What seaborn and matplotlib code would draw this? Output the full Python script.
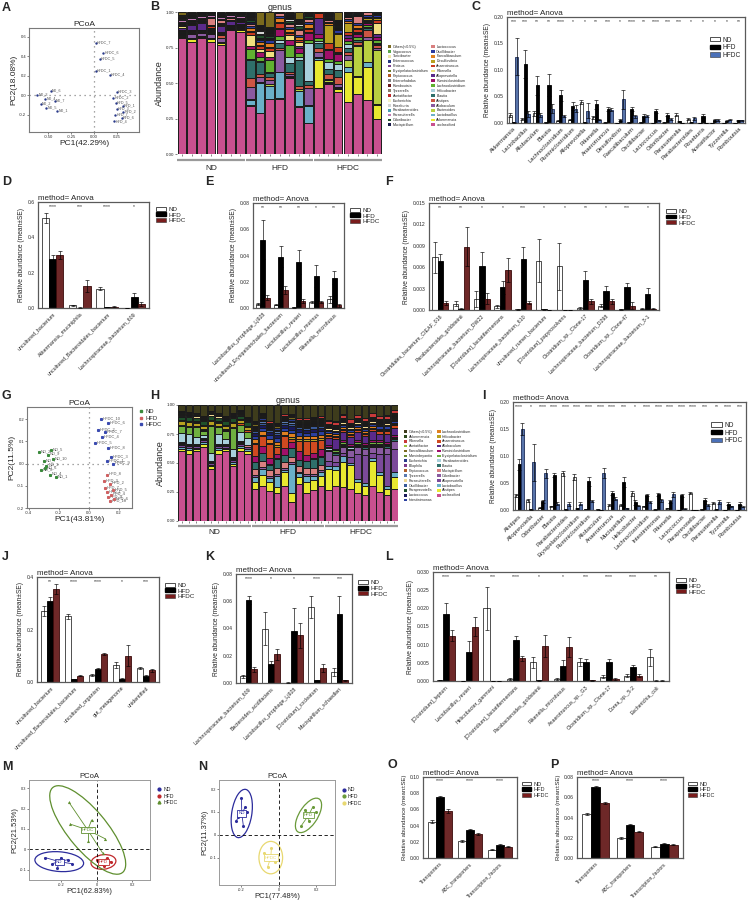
import numpy as np
import pandas as pd
import matplotlib
matplotlib.use('Agg')
import matplotlib.pyplot as plt
import seaborn as sns
from matplotlib.patches import Patch, Ellipse
from matplotlib.lines import Line2D

sns.set_theme(style='white')
plt.rcParams['font.family'] = ['Liberation Sans', 'DejaVu Sans']
plt.rcParams['axes.linewidth'] = 0.8

GROUPS = ['ND', 'HFD', 'HFDC']

# ---------------- panel A : PCoA (genus, first cohort) ----------------
A_labels = ['ND_6', 'ND_3', 'ND_4', 'ND_7', 'ND_2', 'ND_5', 'ND_1',
            'HFDC_7', 'HFDC_6', 'HFDC_5', 'HFDC_1', 'HFDC_4', 'HFDC_3', 'HFDC_2',
            'HFD_5', 'HFD_1', 'HFD_3', 'HFD_2', 'HFD_7', 'HFD_6', 'HFD_4']
A_x = [-0.47, -0.62, -0.53, -0.43, -0.58, -0.52, -0.40,
       0.02, 0.10, 0.06, 0.02, 0.17, 0.25, 0.21,
       0.24, 0.31, 0.25, 0.32, 0.23, 0.30, 0.22]
A_y = [0.04, 0.00, -0.04, -0.06, -0.09, -0.13, -0.16,
       0.54, 0.43, 0.37, 0.25, 0.21, 0.03, -0.03,
       -0.08, -0.11, -0.145, -0.175, -0.20, -0.235, -0.27]

# ---------------- panel B : genus composition (21 samples) ----------------
B_samples = ['ND'] * 7 + ['HFD'] * 7 + ['HFDC'] * 7
B_genus = {
    'Vagococcus':        [0, 0, 0, 0, 0, 0, 0, .003, .002, .002, .003, .002, .002, .003, .002, .003, .002, .002, .003, .002, .002],
    'Turicibacter':      [.003, .002, .002, .003, .002, .002, .002, .005, .003, .004, .003, .003, .004, .003, .003, .002, .003, .003, .002, .003, .002],
    'Enterococcus':      [.002, .003, .002, .002, .003, .002, .002, .004, .003, .003, .004, .003, .003, .004, .002, .003, .002, .003, .002, .003, .002],
    'Proteus':           [.003, .002, .003, .002, .002, .003, .002, .003, .004, .003, .003, .004, .003, .003, .003, .002, .003, .003, .003, .002, .003],
    'Erysipelatoclostridium': [.003, .003, .002, .003, .003, .002, .003, .005, .004, .004, .005, .004, .004, .005, .004, .004, .003, .004, .004, .003, .004],
    'Peptococcus':       [.002, .002, .003, .002, .002, .002, .002, .006, .005, .005, .006, .005, .005, .006, .004, .005, .004, .004, .005, .004, .004],
    'Enterorhabdus':     [.002, .002, .002, .002, .002, .002, .002, .004, .004, .003, .004, .003, .004, .003, .003, .003, .003, .004, .003, .003, .003],
    'Romboutsia':        [.002, .002, .002, .002, .002, .002, .002, .004, .004, .004, .004, .004, .004, .004, .004, .004, .004, .004, .004, .004, .004],
    'Tyzzerella':        [.002, .002, .002, .002, .002, .002, .002, .004, .003, .004, .003, .004, .003, .004, .004, .004, .004, .004, .004, .004, .004],
    'Acetatifactor':     [.002, .002, .002, .002, .002, .002, .002, .006, .005, .006, .005, .006, .005, .006, .005, .006, .005, .006, .005, .006, .005],
    'Escherichia':       [.002, .002, .002, .002, .002, .002, .002, .004, .006, .005, .004, .005, .004, .006, .004, .005, .004, .004, .005, .004, .004],
    'Roseburia':         [.002, .002, .002, .002, .002, .002, .002, .012, .025, .008, .010, .012, .010, .008, .002, .002, .002, .002, .002, .002, .002],
    'Parabacteroides':   [.008, .006, .007, .008, .006, .007, .006, .002, .002, .002, .002, .002, .002, .002, .008, .010, .008, .010, .009, .010, .008],
    'Parasutterella':    [.015, .018, .014, .016, .015, .018, .016, .003, .002, .004, .003, .002, .003, .002, .001, .001, .001, .001, .001, .001, .001],
    'Odoribacter':       [.002, .002, .002, .002, .002, .002, .002, .015, .018, .014, .016, .015, .018, .016, .007, .007, .008, .006, .007, .008, .006],
    'Mucispirillum':     [.005, .004, .004, .005, .004, .004, .004, .010, .008, .010, .008, .008, .010, .008, .006, .006, .006, .006, .006, .006, .006],
    'Lactococcus':       [.010, .010, .010, .050, .020, .010, .005, .020, .010, .010, .020, .020, .030, .020, .010, .010, .010, .010, .050, .020, .010],
    'Oscillibacter':     [.002, .002, .002, .002, .002, .002, .002, .014, .012, .015, .014, .012, .015, .014, .014, .012, .015, .014, .012, .015, .012],
    'Faecalibaculum':    [.005, .005, .005, .005, .005, .005, .005, .020, .020, .030, .030, .020, .020, .030, .010, .010, .010, .020, .020, .010, .010],
    'Desulfovibrio':     [0, 0, 0, 0, 0, 0, 0, .005, .010, .010, .010, .010, .005, .005, .010, .130, .090, .060, .010, .010, .010],
    'Anaerotruncus':     [.005, .005, .005, .010, .010, .005, .005, .020, .020, .020, .030, .010, .010, .020, .030, .040, .040, .020, .020, .010, .020],
    'Rikenella':         [.010, .005, .010, .010, .005, 0, .005, .080, .020, .040, .005, .040, .030, .005, .005, .005, .005, .005, .005, .005, .080],
    'Alloprevotella':    [.020, .040, .045, .010, .040, .030, .015, 0, .005, .005, .005, 0, .010, 0, .110, .005, .005, .020, .010, .005, .020],
    'Ruminiclostridium': [.005, .005, .005, .005, .005, .005, .005, .020, .030, .020, .050, .030, .040, .050, .030, .060, .050, .020, .020, .020, .020],
    'Lachnoclostridium': [.005, .005, .005, .005, .010, .005, .005, .070, .030, .080, .030, .090, .030, .020, .020, .020, .020, .020, .020, .010, .020],
    'Helicobacter':      [0, 0, 0, 0, 0, 0, 0, .005, .010, .010, .020, .040, .020, .270, .010, .050, .040, .030, .005, .010, .010],
    'Blautia':           [.005, .005, .005, .005, .005, .005, .005, .130, .080, .030, .030, .060, .180, .030, .040, .040, .050, .030, .010, .010, .010],
    'Alistipes':         [.010, .010, .010, .010, .020, .010, .005, .060, .020, .020, .020, .020, .020, .020, .030, .030, .050, .020, .020, .050, .020],
    'Allobaculum':       [.010, .030, .020, .030, .030, 0, .010, .090, .040, .030, .150, .010, .005, .120, .030, .010, .020, .030, .010, .020, .010],
    'Bacteroides':       [.005, 0, .005, 0, .005, 0, .005, .005, .005, .010, .005, .005, .010, .005, .010, .010, .010, .050, .210, .160, .380],
    'Lactobacillus':     [.005, .005, .005, .005, .005, .005, .010, .035, .210, .090, .180, .010, .110, .120, .010, .010, .010, .040, .010, .030, .010],
    'Akkermansia':       [.005, .020, 0, .020, .010, 0, .010, .005, 0, 0, .005, 0, .005, 0, .200, .010, .020, .210, .120, .235, .100],
    'unclassified':      [.820, .790, .820, .790, .770, .875, .860, .340, .290, .390, .390, .535, .330, .220, .465, .490, .435, .365, .420, .380, .245],
}
B_order = ['Others(<0.5%)', 'Vagococcus', 'Turicibacter', 'Enterococcus', 'Proteus',
           'Erysipelatoclostridium', 'Peptococcus', 'Enterorhabdus', 'Romboutsia', 'Tyzzerella',
           'Acetatifactor', 'Escherichia', 'Roseburia', 'Parabacteroides', 'Parasutterella',
           'Odoribacter', 'Mucispirillum', 'Lactococcus', 'Oscillibacter', 'Faecalibaculum',
           'Desulfovibrio', 'Anaerotruncus', 'Rikenella', 'Alloprevotella', 'Ruminiclostridium',
           'Lachnoclostridium', 'Helicobacter', 'Blautia', 'Alistipes', 'Allobaculum',
           'Bacteroides', 'Lactobacillus', 'Akkermansia', 'unclassified']
B_colors = ['#7a6a1e', '#5aa84a', '#eee6a8', '#24367e', '#7b3f8f', '#6b7b2a', '#b35a1f',
            '#7f7f7f', '#6b1a1a', '#8b7d6b', '#c0282b', '#f5f3c8', '#d3d3d3', '#4aa0b0',
            '#c27bb4', '#1f4f2a', '#1a1a4a', '#d98080', '#2a3aa0', '#e08020', '#b8a020',
            '#c83a20', '#f0e080', '#5a2a8a', '#a0106a', '#60b030', '#a8d0dc', '#2f6f6a',
            '#cc5544', '#8a5aa0', '#b8d040', '#6ab0c8', '#e8e830', '#c8508f']

# ---------------- panel C ----------------
C_taxa = ['Akkermansia', 'Lactobacillus', 'Allobaculum', 'Blautia', 'Lachnoclostridium',
          'Ruminiclostridium', 'Alloprevotella', 'Rikenella', 'Anaerotruncus', 'Desulfovibrio',
          'Faecalibaculum', 'Oscillibacter', 'Lactococcus', 'Odoribacter', 'Parasutterella',
          'Parabacteroides', 'Roseburia', 'Acetatifactor', 'Tyzzerella', 'Romboutsia']
C_nd = [.015, .007, .018, .001, .004, .006, .039, .011, .001, .0003, .001, .001, .0005, .001, .016, .008, .0005, .0002, .0002, .0002]
C_hfd = [.001, .111, .071, .072, .052, .032, .001, .035, .027, .006, .026, .014, .022, .016, .003, .001, .013, .006, .004, .005]
C_hfdc = [.125, .017, .015, .027, .014, .027, .023, .006, .025, .045, .013, .014, .005, .007, .0005, .009, .0002, .006, .006, .005]
C_nd_se = [.003, .002, .004, .0005, .001, .001, .004, .003, .0005, .0002, .0005, .0005, .0003, .0005, .003, .002, .0003, .0001, .0001, .0001]
C_hfd_se = [.0005, .027, .018, .021, .011, .007, .0005, .009, .004, .002, .004, .003, .004, .003, .001, .0005, .004, .002, .001, .001]
C_hfdc_se = [.035, .005, .004, .009, .002, .007, .014, .001, .003, .018, .003, .002, .001, .002, .0003, .003, .0001, .002, .001, .001]
C_stars = ['***', '***', '**', '**', '****', '*', '*', '**', '***', '*', '****', '**', '****',
           '***', '***', '*', '*', '*', '*', '**']

# ---------------- panel D ----------------
D_taxa = ['uncultured_bacterium', 'Akkermansia_muciniphila', 'uncultured_Bacteroidales_bacterium',
          'Lachnospiraceae_bacterium_609']
D_nd = [.51, .015, .11, .001]
D_hfd = [.28, .002, .005, .062]
D_hfdc = [.30, .125, .008, .022]
D_nd_se = [.03, .003, .01, .0005]
D_hfd_se = [.02, .001, .002, .023]
D_hfdc_se = [.02, .035, .002, .01]
D_stars = ['****', '***', '****', '*']

# ---------------- panel E ----------------
E_taxa = ['Lactobacillus_prophage_Lj928', 'uncultured_Erysipelotrichales_bacterium',
          'Lactobacillus_reuteri', 'Lactobacillus_murinus', 'Rikenella_microfusus']
E_nd = [.003, .0025, .0005, .0045, .0065]
E_hfd = [.052, .039, .035, .0245, .023]
E_hfdc = [.0078, .014, .0055, .0045, .002]
E_nd_se = [.001, .0005, .0002, .0007, .0025]
E_hfd_se = [.015, .008, .009, .0085, .005]
E_hfdc_se = [.002, .003, .0015, .001, .001]
E_stars = ['**', '**', '**', '*', '**']

# ---------------- panel F ----------------
F_taxa = ['Clostridiales_bacterium_CIEAF_016', 'Parabacteroides_goldsteinii',
          'Lachnospiraceae_bacterium_DW22', '[Clostridium]_lactatifermentans',
          'Lachnospiraceae_bacterium_610', 'uncultured_rumen_bacterium',
          '[Clostridium]_papyrosolvens', 'Clostridium_sp._Clone-17',
          'Lachnospiraceae_bacterium_D298', 'Clostridium_sp._Clone-47',
          'Lachnospiraceae_bacterium_3-1']
F_nd = [.0074, .0009, .0015, .0005, .0001, .0069, .0061, .0003, .0006, .0001, .0002]
F_hfd = [.0069, .0002, .0062, .0032, .0071, .0001, .00005, .0042, .0026, .0032, .0023]
F_hfdc = [.0010, .0089, .0016, .0056, .0010, .00005, .00005, .0012, .0012, .0006, .0002]
F_nd_se = [.0022, .0004, .0011, .0002, .0001, .0030, .0033, .0001, .0002, .0001, .0001]
F_hfd_se = [.0009, .0001, .0019, .0009, .0018, .0001, .0, .0012, .0007, .0006, .0008]
F_hfdc_se = [.0003, .0027, .0008, .0017, .0002, .0, .0, .0003, .0004, .0005, .0001]
F_stars = ['**', '**', '*', '*', '***', '*', '*', '**', '*', '***', '*']

# ---------------- panel G : PCoA (second cohort) ----------------
G_group = ['ND'] * 10 + ['HFD'] * 10 + ['HFDC'] * 10
G_labels = ['ND_%d' % i for i in (2, 9, 5, 7, 3, 10, 8, 6, 1, 4)] + \
           ['HFD_%d' % i for i in (8, 3, 2, 7, 5, 4, 9, 6, 1, 10)] + \
           ['HFDC_%d' % i for i in (10, 6, 2, 7, 4, 5, 8, 3, 1, 9)]
G_x = [-0.33, -0.27, -0.25, -0.30, -0.28, -0.24, -0.32, -0.29, -0.22, -0.26,
       0.12, 0.10, 0.14, 0.11, 0.16, 0.15, 0.13, 0.17, 0.12, 0.14,
       0.08, 0.13, 0.06, 0.11, 0.09, 0.04, 0.13, 0.15, 0.12, 0.16]
G_y = [0.05, 0.04, 0.06, 0.01, -0.01, 0.02, -0.03, -0.02, -0.06, -0.05,
       -0.05, -0.08, -0.09, -0.11, -0.12, -0.14, -0.15, -0.16, -0.13, -0.17,
       0.20, 0.18, 0.15, 0.14, 0.12, 0.09, 0.07, 0.03, 0.01, 0.00]

# ---------------- panel H : genus composition (30 samples) ----------------
H_samples = ['ND'] * 10 + ['HFD'] * 10 + ['HFDC'] * 10
H_genus = {
    'Akkermansia':      [.004, .003, .004, .003, .004, .003, .004, .003, .004, .003, .004, .004, .004, .004, .004, .004, .004, .004, .004, .004, .003, .003, .003, .003, .003, .003, .003, .003, .003, .003],
    'Rikenella':        [.003, .003, .003, .003, .003, .003, .003, .003, .003, .003, .016, .015, .018, .014, .016, .015, .017, .016, .015, .016, .029, .030, .028, .030, .029, .028, .030, .029, .030, .028],
    'Acetatifactor':    [.006, .005, .006, .005, .006, .005, .006, .005, .006, .005, .008, .008, .008, .008, .008, .008, .008, .008, .008, .008, .005, .005, .005, .005, .005, .005, .005, .005, .005, .005],
    'Faecalibaculum':   [.004, .004, .004, .004, .004, .004, .004, .004, .004, .004, .010, .010, .010, .010, .010, .010, .010, .010, .010, .010, .004, .004, .004, .004, .004, .004, .004, .004, .004, .004],
    'Marvinbryantia':   [.004, .004, .004, .004, .004, .004, .004, .004, .004, .004, .006, .006, .006, .006, .006, .006, .006, .006, .006, .006, .004, .004, .004, .004, .004, .004, .004, .004, .004, .004],
    'Escherichia':      [.004, .004, .004, .004, .004, .004, .004, .004, .004, .004, .010, .012, .010, .012, .010, .012, .010, .012, .010, .012, .006, .006, .006, .006, .006, .006, .006, .006, .006, .006],
    'Bilophila':        [.003, .003, .003, .003, .003, .003, .003, .003, .003, .003, .008, .008, .008, .008, .008, .008, .008, .008, .008, .008, .006, .006, .006, .006, .006, .006, .006, .006, .006, .006],
    'Peptococcus':      [.004, .004, .004, .004, .004, .004, .004, .004, .004, .004, .006, .006, .006, .006, .006, .006, .006, .006, .006, .006, .004, .004, .004, .004, .004, .004, .004, .004, .004, .004],
    'Tyzzerella':       [.001, .001, .001, .001, .001, .001, .001, .001, .001, .001, .012, .012, .012, .012, .012, .012, .012, .012, .012, .012, .007, .007, .007, .007, .007, .007, .007, .007, .007, .007],
    'Parasutterella':   [.013, .014, .012, .013, .014, .012, .013, .014, .012, .013, .001, .001, .001, .001, .001, .001, .001, .001, .001, .001, .015, .014, .016, .015, .014, .016, .015, .014, .016, .015],
    'Oscillibacter':    [.001, .001, .001, .001, .001, .001, .001, .001, .001, .001, .019, .018, .020, .019, .018, .020, .019, .018, .020, .019, .009, .009, .009, .009, .009, .009, .009, .009, .009, .009],
    'Paraprevotella':   [.030, .032, .031, .030, .032, .031, .030, .032, .031, .030, 0, 0, 0, 0, 0, 0, 0, 0, 0, 0, 0, 0, 0, 0, 0, 0, 0, 0, 0, 0],
    'Lactococcus':      [.001, .001, .001, .001, .001, .001, .001, .001, .001, .001, .027, .030, .025, .028, .027, .030, .025, .028, .027, .030, .002, .002, .002, .002, .002, .002, .002, .002, .002, .002],
    'Intestinimonas':   [.001, .001, .001, .001, .001, .001, .001, .001, .001, .001, .030, .028, .032, .030, .028, .032, .030, .028, .032, .030, .018, .018, .018, .018, .018, .018, .018, .018, .018, .018],
    'Lachnoclostridium': [.007, .007, .007, .007, .007, .007, .007, .007, .007, .007, .030, .028, .032, .030, .028, .032, .030, .028, .032, .030, .015, .015, .015, .015, .015, .015, .015, .015, .015, .015],
    'Helicobacter':     [.030, .032, .028, .030, .032, .028, .030, .032, .028, .030, .014, .014, .014, .014, .014, .014, .014, .014, .014, .014, .008, .008, .008, .008, .008, .008, .008, .008, .008, .008],
    'Anaerotruncus':    [.010, .010, .010, .010, .010, .010, .010, .010, .010, .010, .100, .080, .120, .060, .100, .030, .090, .120, .100, .080, .020, .020, .020, .020, .020, .020, .020, .020, .020, .020],
    'Allobaculum':      [0, 0, 0, 0, 0, 0, 0, 0, 0, 0, 0, 0, 0, 0, 0, 0, 0, 0, 0, 0, .060, .080, .070, .060, .070, .060, .080, .060, .070, .060],
    'Ruminiclostridium': [.003, .003, .003, .003, .003, .003, .003, .003, .003, .003, .050, .060, .050, .040, .060, .050, .070, .050, .050, .060, .016, .016, .016, .016, .016, .016, .016, .016, .016, .016],
    'Erysipelatoclostridium': [.060, .060, .080, .040, .230, .060, .070, .180, .060, .050, .002, .002, .002, .002, .002, .002, .002, .002, .002, .002, .012, .012, .012, .012, .012, .012, .012, .012, .012, .012],
    'Parabacteroides':  [.080, .080, .060, .020, .070, .080, .040, .070, .080, .060, .002, .002, .002, .002, .002, .002, .002, .002, .002, .002, .011, .011, .011, .011, .011, .011, .011, .011, .011, .011],
    'Blautia':          [.007, .007, .007, .007, .007, .007, .007, .007, .007, .007, .060, .070, .050, .080, .060, .070, .050, .060, .080, .070, .012, .012, .012, .012, .012, .012, .012, .012, .012, .012],
    'Mucispirillum':    [.009, .009, .009, .009, .009, .009, .009, .009, .009, .009, .050, .050, .050, .050, .050, .050, .050, .050, .050, .050, .003, .003, .003, .003, .003, .003, .003, .003, .003, .003],
    'Odoribacter':      [.004, .004, .004, .004, .004, .004, .004, .004, .004, .004, .016, .016, .016, .016, .016, .016, .016, .016, .016, .016, .080, .060, .050, .060, .060, .050, .050, .060, .050, .070],
    'Alloprevotella':   [.018, .018, .018, .018, .018, .018, .018, .018, .018, .018, 0, 0, 0, 0, 0, 0, 0, 0, 0, 0, .050, .040, .030, .050, .220, .240, .050, .160, .280, .200],
    'Lactobacillus':    [.020, .020, .010, .020, .010, .020, .010, .020, .020, .020, .040, .050, .030, .100, .020, .250, .030, .050, .040, .030, .020, .030, .050, .020, .020, .030, .020, .020, .020, .040],
    'Alistipes':        [.020, .030, .020, .020, .020, .030, .020, .020, .030, .020, .060, .100, .080, .050, .120, .080, .060, .100, .080, .090, .180, .140, .220, .200, .100, .080, .220, .150, .060, .100],
    'unclassified':     [.600, .580, .600, .640, .450, .580, .600, .470, .600, .580, .280, .300, .260, .240, .300, .160, .320, .240, .270, .300, .270, .300, .290, .280, .240, .220, .300, .250, .220, .280],
}
H_order = ['Others(<0.5%)', 'Akkermansia', 'Rikenella', 'Acetatifactor', 'Faecalibaculum',
           'Marvinbryantia', 'Escherichia', 'Bilophila', 'Peptococcus', 'Tyzzerella',
           'Parasutterella', 'Oscillibacter', 'Paraprevotella', 'Lactococcus', 'Intestinimonas',
           'Lachnoclostridium', 'Helicobacter', 'Anaerotruncus', 'Allobaculum',
           'Ruminiclostridium', 'Erysipelatoclostridium', 'Parabacteroides', 'Blautia',
           'Mucispirillum', 'Odoribacter', 'Alloprevotella', 'Lactobacillus', 'Alistipes',
           'unclassified']
H_colors = ['#3e3c1c', '#2e4a1e', '#c83a3a', '#9ac040', '#7a6a20', '#6a8a30', '#2a3a8a',
            '#7a3a8a', '#b0602a', '#5a7ab0', '#f0d890', '#3a5a9a', '#1f4f2a', '#1a1a5a',
            '#2a40a0', '#e08020', '#b8a020', '#d04a20', '#5a2a8a', '#a0106a', '#70b040',
            '#a8d0dc', '#2f6f6a', '#d98080', '#8a5aa0', '#7b4a9a', '#6ab0c8', '#e8e830',
            '#c8508f']

# ---------------- panel I ----------------
I_taxa = ['Alistipes', 'Alloprevotella', 'Odoribacter', 'Blautia', 'Parabacteroides',
          'Erysipelatoclostridium', 'Ruminiclostridium', 'Allobaculum', 'Anaerotruncus',
          'Mucispirillum', 'Helicobacter', 'Lachnoclostridium', 'Intestinimonas', 'Rikenella',
          'Lactococcus', 'Paraprevotella', 'Oscillibacter', 'Parasutterella', 'Tyzzerella',
          'Romboutsia']
I_nd = [.027, .018, .004, .007, .068, .061, .002, .001, .010, .009, .031, .007, .001, .003, .0005, .031, .001, .013, .0003, .0003]
I_hfd = [.085, .001, .016, .065, .001, .003, .053, .0005, .032, .052, .014, .028, .029, .016, .027, .0002, .019, .001, .012, .012]
I_hfdc = [.150, .088, .068, .012, .011, .012, .016, .068, .021, .003, .008, .015, .018, .029, .002, .0002, .009, .015, .007, .006]
I_nd_se = [.003, .003, .001, .001, .005, .005, .0005, .0005, .002, .002, .005, .001, .0005, .001, .0003, .002, .0005, .002, .0002, .0002]
I_hfd_se = [.010, .0005, .003, .003, .0005, .001, .008, .0003, .004, .010, .004, .002, .003, .003, .003, .0001, .003, .0005, .002, .002]
I_hfdc_se = [.012, .035, .008, .003, .003, .003, .002, .009, .003, .001, .001, .002, .003, .004, .001, .0001, .002, .003, .001, .001]
I_stars = ['****', '*', '****', '****', '****', '****', '****', '****', '****', '***', '*',
           '****', '****', '****', '****', '****', '***', '**', '****', '***']

# ---------------- panel J ----------------
J_taxa = ['uncultured_bacterium', 'uncultured_Bacteroidales_bacterium', 'uncultured_organism',
          'gut_metagenome', 'unidentified']
J_nd = [.27, .25, .025, .065, .055]
J_hfd = [.31, .012, .05, .013, .022]
J_hfdc = [.355, .024, .106, .10, .044]
J_nd_se = [.02, .01, .004, .01, .004]
J_hfd_se = [.015, .001, .005, .002, .003]
J_hfdc_se = [.02, .001, .005, .04, .005]
J_stars = ['**', '****', '****', '*', '***']

# ---------------- panel K ----------------
K_taxa = ['Lachnospiraceae_bacterium_609', 'Bacteroides_acidifaciens',
          'Lactobacillus_prophage_Lj928', '[Clostridium]_cocleatum', 'Mucispirillum_schaedleri']
K_nd = [.005, .040, .0003, .056, .008]
K_hfd = [.061, .014, .038, .002, .051]
K_hfdc = [.010, .021, .035, .011, .002]
K_nd_se = [.001, .012, .0002, .008, .003]
K_hfd_se = [.003, .002, .017, .0005, .013]
K_hfdc_se = [.002, .004, .009, .003, .0005]
K_stars = ['****', '*', '*', '****', '***']

# ---------------- panel L ----------------
L_taxa = ['[Clostridium]_leptum', 'Lactobacillus_reuteri', 'Helicobacter_ganmani',
          '[Clostridium]_lactatifermentans', 'Parabacteroides_goldsteinii', 'Rikenella_microfusus',
          'Anaerotruncus_sp._G3', 'Clostridium_sp._Clone-17', 'Dorea_sp._5-2', 'Escherichia_coli']
L_nd = [.0003, .00005, .020, .0005, .0052, .0005, .0053, .0012, .0015, .0065]
L_hfd = [.0185, .0080, .00005, .0113, .0002, .0041, .0052, .0052, .0039, .0001]
L_hfdc = [.0125, .0150, .00005, .0063, .0097, .0094, .0002, .0006, .0014, .0001]
L_nd_se = [.0001, .0, .006, .0002, .0015, .0002, .0011, .0004, .0004, .0023]
L_hfd_se = [.003, .003, .0, .0012, .0001, .0017, .0008, .0009, .0004, .0001]
L_hfdc_se = [.0015, .0027, .0, .0007, .003, .0027, .0001, .0002, .0004, .0001]
L_stars = ['****', '***', '***', '****', '*', '*', '***', '****', '****', '**']

# ---------------- panels M, N : PCoA with ellipses ----------------
M_nd_x = [-0.29, -0.25, -0.20, -0.14, -0.22, -0.16]
M_nd_y = [-0.04, -0.07, -0.04, -0.07, -0.09, -0.05]
M_hfd_x = [0.00, 0.03, 0.06, 0.04, 0.08, 0.02]
M_hfd_y = [-0.05, -0.07, -0.04, -0.08, -0.06, -0.07]
M_hfdc_x = [-0.155, -0.149, -0.028, -0.050, 0.048, 0.034]
M_hfdc_y = [0.230, 0.124, 0.144, 0.039, 0.052, -0.018]

N_nd_x = [-0.20, -0.18, -0.22, -0.19, -0.23, -0.17]
N_nd_y = [0.16, 0.12, 0.08, 0.04, 0.06, 0.10]
N_hfd_x = [0.12, 0.15, 0.18, 0.14, 0.20, 0.16]
N_hfd_y = [0.04, 0.08, 0.12, 0.11, 0.10, 0.06]
N_hfdc_x = [-0.08, -0.04, -0.02, -0.06, -0.01, -0.05]
N_hfdc_y = [-0.08, -0.06, -0.12, -0.14, -0.09, -0.11]

# ---------------- panels O, P ----------------
OP_taxa = ['Transporters', 'ABC_transporters', 'Transcription_factors']
O_nd = [.045, .021, .010]
O_hfd = [.075, .035, .016]
O_hfdc = [.058, .030, .014]
O_se = [.002, .001, .0007]
P_nd = [.043, .020, .011]
P_hfd = [.070, .033, .014]
P_hfdc = [.054, .026, .013]
P_se = [.001, .0008, .0005]
OP_stars = ['****', '****', '****']

# =====================================================================
W, H = 749, 910
fig = plt.figure(figsize=(W / 100, H / 100), dpi=100)
FRAME = '#5a5a5a'
BLUE = '#4a70b8'
RED = '#7a1c1c'


def add_ax(x0, y0, x1, y1):
    return fig.add_axes([x0 / W, 1 - y1 / H, (x1 - x0) / W, (y1 - y0) / H])


def letter(x, y, s):
    fig.text(x / W, 1 - y / H, s, fontsize=9, fontweight='bold', ha='left', va='center')


def frame(ax, color=FRAME, lw=0.9):
    for sp in ax.spines.values():
        sp.set_visible(True)
        sp.set_color(color)
        sp.set_linewidth(lw)


def grouped(ax, taxa, nd, hfd, hfdc, se, stars, ymax, yticks, fmt, third, fs=3.8, yfs=4.8):
    df = pd.DataFrame({'taxon': taxa * 3,
                       'group': [g for g in GROUPS for _ in taxa],
                       'value': nd + hfd + hfdc})
    sns.barplot(data=df, x='taxon', y='value', hue='group', hue_order=GROUPS,
                palette=['white', 'black', third], errorbar=None, width=0.78,
                linewidth=0.6, legend=False, ax=ax)
    edges = ['#333333', 'black', '#1e2e5a' if third == BLUE else '#3a0a0a']
    for cont, ec, errs in zip(ax.containers, edges, se):
        for bar, e in zip(cont, errs):
            bar.set_edgecolor(ec)
            cx = bar.get_x() + bar.get_width() / 2
            ax.errorbar(cx, bar.get_height(), yerr=e, color='black', lw=0.45,
                        capsize=1.1, capthick=0.45, zorder=3)
    for i, s in enumerate(stars):
        ax.text(i, ymax * 0.955, s, ha='center', va='center', fontsize=3.6)
    ax.set_ylim(0, ymax)
    ax.set_xlim(-0.55, len(taxa) - 0.45)
    ax.set_yticks(yticks)
    ax.set_yticklabels([fmt.format(t) for t in yticks], fontsize=3.6)
    ax.set_xticks(range(len(taxa)))
    ax.set_xticklabels(taxa, rotation=45, ha='right', rotation_mode='anchor', fontsize=fs)
    ax.set_xlabel('')
    ax.set_ylabel('Relative abundance (mean±SE)', fontsize=yfs, labelpad=2)
    ax.set_title('method= Anova', loc='left', fontsize=5.8, pad=1.5)
    ax.tick_params(axis='both', length=1.5, width=0.5, pad=1)
    frame(ax)


def bar_legend(ax, third, anchor, loc='upper left', fs=4.5):
    hs = [Patch(fc='white', ec='#333333', lw=0.6), Patch(fc='black', ec='black'),
          Patch(fc=third, ec='#333333', lw=0.4)]
    ax.legend(hs, GROUPS, loc=loc, bbox_to_anchor=anchor, frameon=False, fontsize=fs,
              handlelength=1.6, handleheight=0.6, labelspacing=0.1, handletextpad=0.4,
              borderaxespad=0)


def stacked(ax, samples, genus, order, colors, legend_anchor):
    n = len(samples)
    named = [g for g in order if g != 'Others(<0.5%)']
    others = [max(0.0, 1 - sum(genus[g][i] for g in named)) for i in range(n)]
    table = pd.DataFrame({g: genus[g] for g in named})
    table['Others(<0.5%)'] = others
    bottom = np.zeros(n)
    for g, c in zip(order[::-1], colors[::-1]):
        ax.bar(range(n), table[g], bottom=bottom, width=0.88, color=c,
               edgecolor='#1a1a1a', linewidth=0.7)
        bottom += table[g].values
    ax.set_xlim(-0.5, n - 0.5)
    ax.set_ylim(0, 1)
    ax.set_yticks([0, .25, .5, .75, 1])
    ax.set_yticklabels(['0.00', '0.25', '0.50', '0.75', '1.00'], fontsize=3.2)
    ax.set_xticks(range(n))
    ax.set_xticklabels([])
    ax.tick_params(axis='both', length=1.3, width=0.4, pad=0.8, bottom=True, left=True)
    ax.set_ylabel('Abundance', fontsize=6.5, labelpad=1)
    ax.set_title('genus', fontsize=6.5, pad=1.5)
    for sp in ax.spines.values():
        sp.set_visible(False)
    tr = ax.get_xaxis_transform()
    pos = 0
    for g in GROUPS:
        k = samples.count(g)
        ax.plot([pos - 0.45, pos + k - 0.55], [-0.045, -0.045], color='#9a9a9a', lw=1.6,
                transform=tr, clip_on=False, solid_capstyle='butt')
        ax.text(pos + (k - 1) / 2, -0.1, g, transform=tr, ha='center', va='center', fontsize=6)
        pos += k
    hs = [Patch(fc=c, ec='none') for c in colors]
    ax.legend(hs, order, loc='upper left', bbox_to_anchor=legend_anchor, ncol=2, frameon=False,
              fontsize=2.6, handlelength=1.0, handleheight=0.8, labelspacing=0.25,
              columnspacing=0.8, handletextpad=0.4, borderaxespad=0)


def pcoa_points(ax, xs, ys, labels, xlim, ylim, xt, yt, xlab, ylab, xfmt, yfmt, fs=2.9):
    sns.scatterplot(x=xs, y=ys, color='#2a3a8a', s=3, linewidth=0, legend=False, ax=ax,
                    zorder=3)
    for x, y, t in zip(xs, ys, labels):
        ax.text(x + 0.012, y + 0.004, t, fontsize=fs, color='#555555', va='center')
    ax.axhline(0, color='#888888', lw=0.9, ls=(0, (1, 3)))
    ax.axvline(0, color='#888888', lw=0.9, ls=(0, (1, 3)))
    ax.set_xlim(*xlim)
    ax.set_ylim(*ylim)
    ax.set_xticks(xt)
    ax.set_xticklabels([xfmt.format(v) for v in xt], fontsize=3)
    ax.set_yticks(yt)
    ax.set_yticklabels([yfmt.format(v) for v in yt], fontsize=3)
    ax.set_xlabel(xlab, fontsize=6, labelpad=1)
    ax.set_ylabel(ylab, fontsize=6, labelpad=1)
    ax.set_title('PCoA', fontsize=6, pad=1.5)
    ax.tick_params(axis='both', length=1.3, width=0.4, pad=0.8, bottom=True, left=True)
    frame(ax, '#7a7a7a', 0.8)


def conf_ellipse(ax, xs, ys, color, n_std=2.45):
    xs, ys = np.asarray(xs), np.asarray(ys)
    cov = np.cov(xs, ys)
    vals, vecs = np.linalg.eigh(cov)
    ang = np.degrees(np.arctan2(vecs[1, 1], vecs[0, 1]))
    w, h = 2 * n_std * np.sqrt(vals[::-1])
    ax.add_patch(Ellipse((xs.mean(), ys.mean()), w, h, angle=ang, fill=False,
                         ec=color, lw=0.9))


def pcoa_ellipse(ax, groups, colors, markers, xlim, ylim, xt, yt, xlab, ylab):
    for (name, xs, ys), c, m in zip(groups, colors, markers):
        cx, cy = np.mean(xs), np.mean(ys)
        for x, y in zip(xs, ys):
            ax.plot([cx, x], [cy, y], color=c, lw=0.6)
        sns.scatterplot(x=xs, y=ys, color=c, marker=m, s=5, linewidth=0, legend=False, ax=ax)
        conf_ellipse(ax, xs, ys, c)
        ax.text(cx, cy, name, fontsize=3.2, color=c, ha='center', va='center',
                bbox=dict(boxstyle='square,pad=0.25', fc='white', ec=c, lw=0.6))
    ax.axhline(0, color='black', lw=0.6, ls=(0, (4, 3)))
    ax.axvline(0, color='black', lw=0.6, ls=(0, (4, 3)))
    ax.set_xlim(*xlim)
    ax.set_ylim(*ylim)
    ax.set_xticks(xt)
    ax.set_xticklabels(['%g' % v for v in xt], fontsize=2.8)
    ax.set_yticks(yt)
    ax.set_yticklabels(['%g' % v for v in yt], fontsize=2.8)
    ax.set_xlabel(xlab, fontsize=5.5, labelpad=1)
    ax.set_ylabel(ylab, fontsize=5.5, labelpad=1)
    ax.set_title('PCoA', fontsize=5.5, pad=1.5)
    ax.tick_params(axis='both', length=1.2, width=0.4, pad=0.8, bottom=True, left=True)
    frame(ax, '#9a9a9a', 0.7)
    hs = [Line2D([], [], marker=m, color=c, ls='', ms=2) for c, m in zip(colors, markers)]
    ax.legend(hs, GROUPS, loc='upper left', bbox_to_anchor=(1.04, 0.95), frameon=False,
              fontsize=3.8, handlelength=0.8, labelspacing=0.3, handletextpad=0.4,
              borderaxespad=0)


# ---- A
ax = add_ax(29, 28, 139, 132)
pcoa_points(ax, A_x, A_y, A_labels, (-0.71, 0.49), (-0.38, 0.69),
            [-0.5, -0.25, 0, 0.25], [-0.2, 0, 0.2, 0.4, 0.6], 'PC1(42.29%)', 'PC2(18.08%)',
            '{:.2f}', '{:.1f}', fs=2.7)
letter(2, 8, 'A')

# ---- B
ax = add_ax(177, 12, 382, 154)
stacked(ax, B_samples, B_genus, B_order, B_colors, (1.02, 0.78))
letter(150, 7, 'B')

# ---- C
ax = add_ax(507, 17, 745, 123)
grouped(ax, C_taxa, C_nd, C_hfd, C_hfdc, [C_nd_se, C_hfd_se, C_hfdc_se], C_stars,
        0.20, [0, .05, .10, .15, .20], '{:.2f}', BLUE, fs=4.2)
bar_legend(ax, BLUE, (0.84, 0.84), fs=4.8)
letter(472, 7, 'C')

# ---- D
ax = add_ax(38, 202, 149, 308)
grouped(ax, D_taxa, D_nd, D_hfd, D_hfdc, [D_nd_se, D_hfd_se, D_hfdc_se], D_stars,
        0.6, [0, .2, .4, .6], '{:.1f}', RED)
bar_legend(ax, RED, (1.04, 0.98))
letter(2, 182, 'D')

# ---- E
ax = add_ax(253, 203, 344, 308)
grouped(ax, E_taxa, E_nd, E_hfd, E_hfdc, [E_nd_se, E_hfd_se, E_hfdc_se], E_stars,
        0.08, [0, .02, .04, .06, .08], '{:.2f}', RED)
bar_legend(ax, RED, (1.04, 0.98))
letter(205, 182, 'E')

# ---- F
ax = add_ax(429, 203, 659, 310)
grouped(ax, F_taxa, F_nd, F_hfd, F_hfdc, [F_nd_se, F_hfd_se, F_hfdc_se], F_stars,
        0.015, [0, .003, .006, .009, .012, .015], '{:.3f}', RED)
bar_legend(ax, RED, (1.02, 0.97))
letter(385, 182, 'F')

# ---- G
ax = add_ax(27, 407, 132, 508)
gcol = {'ND': '#3a8a3a', 'HFD': '#d06060', 'HFDC': '#3a4ab0'}
pcoa_points(ax, G_x, G_y, G_labels, (-0.41, 0.29), (-0.2, 0.254),
            [-0.4, -0.2, 0, 0.2], [-0.2, -0.1, 0, 0.1, 0.2], 'PC1(43.81%)', 'PC2(11.5%)',
            '{:.1f}', '{:.1f}')
for x, y, g in zip(G_x, G_y, G_group):
    ax.plot(x, y, marker='s', ms=1.2, color=gcol[g], ls='', zorder=4)
hs = [Line2D([], [], marker='s', color=gcol[g], ls='', ms=1.5) for g in GROUPS]
ax.legend(hs, GROUPS, loc='upper left', bbox_to_anchor=(1.05, 1.0), frameon=False,
          fontsize=4.2, handlelength=0.6, labelspacing=0.2, handletextpad=0.5, borderaxespad=0)
letter(2, 396, 'G')

# ---- H
ax = add_ax(178, 405, 398, 521)
stacked(ax, H_samples, H_genus, H_order, H_colors, (1.02, 0.8))
letter(150, 396, 'H')

# ---- I
ax = add_ax(513, 402, 746, 510)
grouped(ax, I_taxa, I_nd, I_hfd, I_hfdc, [I_nd_se, I_hfd_se, I_hfdc_se], I_stars,
        0.20, [0, .05, .10, .15, .20], '{:.2f}', BLUE, fs=4.2)
bar_legend(ax, BLUE, (0.84, 0.84), fs=4.8)
letter(482, 396, 'I')

# ---- J
ax = add_ax(37, 577, 159, 682)
grouped(ax, J_taxa, J_nd, J_hfd, J_hfdc, [J_nd_se, J_hfd_se, J_hfdc_se], J_stars,
        0.4, [0, .2, .4], '{:.1f}', RED)
bar_legend(ax, RED, (1.03, 0.97))
letter(2, 557, 'J')

# ---- K
ax = add_ax(236, 574, 352, 683)
grouped(ax, K_taxa, K_nd, K_hfd, K_hfdc, [K_nd_se, K_hfd_se, K_hfdc_se], K_stars,
        0.08, [0, .02, .04, .06, .08], '{:.2f}', RED)
bar_legend(ax, RED, (1.03, 0.97))
letter(205, 557, 'K')

# ---- L
ax = add_ax(433, 572, 669, 681)
grouped(ax, L_taxa, L_nd, L_hfd, L_hfdc, [L_nd_se, L_hfd_se, L_hfdc_se], L_stars,
        0.030, [0, .005, .01, .015, .02, .025, .03], '{:.3f}', RED)
bar_legend(ax, RED, (1.02, 0.97))
letter(385, 557, 'L')

# ---- M
ax = add_ax(29, 780, 150, 880)
pcoa_ellipse(ax, [('ND', M_nd_x, M_nd_y), ('HFD', M_hfd_x, M_hfd_y),
                  ('HFDC', M_hfdc_x, M_hfdc_y)],
             ['#2c2c9c', '#c0282b', '#5f8f2f'], ['o', 'o', '^'],
             (-0.38, 0.3), (-0.15, 0.34), [-0.2, 0, 0.2], [-0.1, 0, 0.1, 0.2, 0.3],
             'PC1(62.83%)', 'PC2(21.53%)')
letter(2, 767, 'M')

# ---- N
ax = add_ax(219, 780, 335, 885)
pcoa_ellipse(ax, [('ND', N_nd_x, N_nd_y), ('HFD', N_hfd_x, N_hfd_y),
                  ('HFDC', N_hfdc_x, N_hfdc_y)],
             ['#2c2c9c', '#6a9a3a', '#e8d870'], ['o', 'o', 'o'],
             (-0.32, 0.3), (-0.22, 0.24), [-0.2, 0, 0.2], [-0.1, 0, 0.1, 0.2],
             'PC1(77.48%)', 'PC2(11.37%)')
letter(198, 767, 'N')

# ---- O
ax = add_ax(423, 777, 517, 858)
grouped(ax, OP_taxa, O_nd, O_hfd, O_hfdc, [O_se, O_se, O_se], OP_stars,
        0.10, [0, .02, .04, .06, .08, .10], '{:.2f}', RED, fs=3.6, yfs=4.3)
bar_legend(ax, RED, (1.03, 0.97), fs=4)
letter(388, 765, 'O')

# ---- P
ax = add_ax(577, 777, 683, 858)
grouped(ax, OP_taxa, P_nd, P_hfd, P_hfdc, [P_se, P_se, P_se], OP_stars,
        0.08, [0, .02, .04, .06, .08], '{:.2f}', RED, fs=3.6, yfs=4.3)
bar_legend(ax, RED, (1.03, 0.97), fs=4)
letter(550, 765, 'P')

fig.savefig('out.png', dpi=100)
